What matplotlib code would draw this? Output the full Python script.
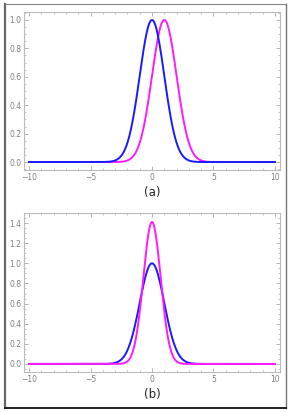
import numpy as np
import matplotlib.pyplot as plt
from matplotlib.lines import Line2D
from matplotlib.ticker import MultipleLocator

# curve parameters (peak position, height, width)
centros_a = [0.0, 1.0]
alturas_a = [1.0, 1.0]
sigmas_a = [1.0, 1.0]

centros_b = [0.0, 0.0]
alturas_b = [1.0, 1.41]
sigmas_b = [1.0, 0.707]

cores = ['#1a1aff', '#ff1aff']
rotulos = ['(a)', '(b)']

x = np.linspace(-10, 10, 801)

def gauss(c, h, s):
    return h * np.exp(-(x - c) ** 2 / (2 * s ** 2))

fig = plt.figure(figsize=(2.92, 4.12), dpi=100)

# moldura em volta da figura (esq, topo, dir, baixo)
W, H = 292, 412
bordas = [([4.5, 4.5], [3.5, 407.5], '#666666', 1.6),
          ([4.5, 286], [3.5, 3.5], '#888888', 0.8),
          ([286, 286], [3.5, 407.5], '#777777', 1.0),
          ([4.5, 286], [407.5, 407.5], '#222222', 1.4)]
for bx, by, cor, lw in bordas:
    fig.add_artist(Line2D([v / W for v in bx], [1 - v / H for v in by],
                          transform=fig.transFigure, color=cor, linewidth=lw))

posicoes = [[24 / W, 1 - 170 / H, 256 / W, 158 / H],
            [24 / W, 1 - 372 / H, 256 / W, 159 / H]]
ylims = [(-0.056, 1.056), (-0.08, 1.50)]
dados = [(centros_a, alturas_a, sigmas_a), (centros_b, alturas_b, sigmas_b)]
legenda_y = [-0.145, -0.14]

for i in range(2):
    ax = fig.add_axes(posicoes[i])
    cs, hs, ss = dados[i]
    ordem = [1, 0] if i == 0 else [0, 1]
    for k in ordem:
        ax.plot(x, gauss(cs[k], hs[k], ss[k]), color=cores[k], linewidth=1.4)
    ax.set_xlim(-10.41, 10.41)
    ax.set_ylim(*ylims[i])
    ax.xaxis.set_major_locator(MultipleLocator(5))
    ax.xaxis.set_minor_locator(MultipleLocator(1))
    ax.yaxis.set_major_locator(MultipleLocator(0.2))
    ax.yaxis.set_minor_locator(MultipleLocator(0.05))
    ax.tick_params(which='both', direction='in', top=True, right=True,
                   colors='#aaaaaa', labelcolor='#808080', labelsize=5.5, pad=2)
    ax.tick_params(which='major', length=3, width=0.6)
    ax.tick_params(which='minor', length=1.6, width=0.5)
    ax.set_xticks([-10, -5, 0, 5, 10])
    ax.set_xticklabels(['\u221210', '\u22125', '0', '5', '10'])
    ax.yaxis.set_major_formatter(plt.FormatStrFormatter('%.1f'))
    for s in ax.spines.values():
        s.set_color('#bbbbbb')
        s.set_linewidth(0.8)
    ax.text(0.5, legenda_y[i], rotulos[i], transform=ax.transAxes, ha='center',
            va='center', fontsize=8.5, color='#222222')

fig.savefig('out.png', dpi=100)
